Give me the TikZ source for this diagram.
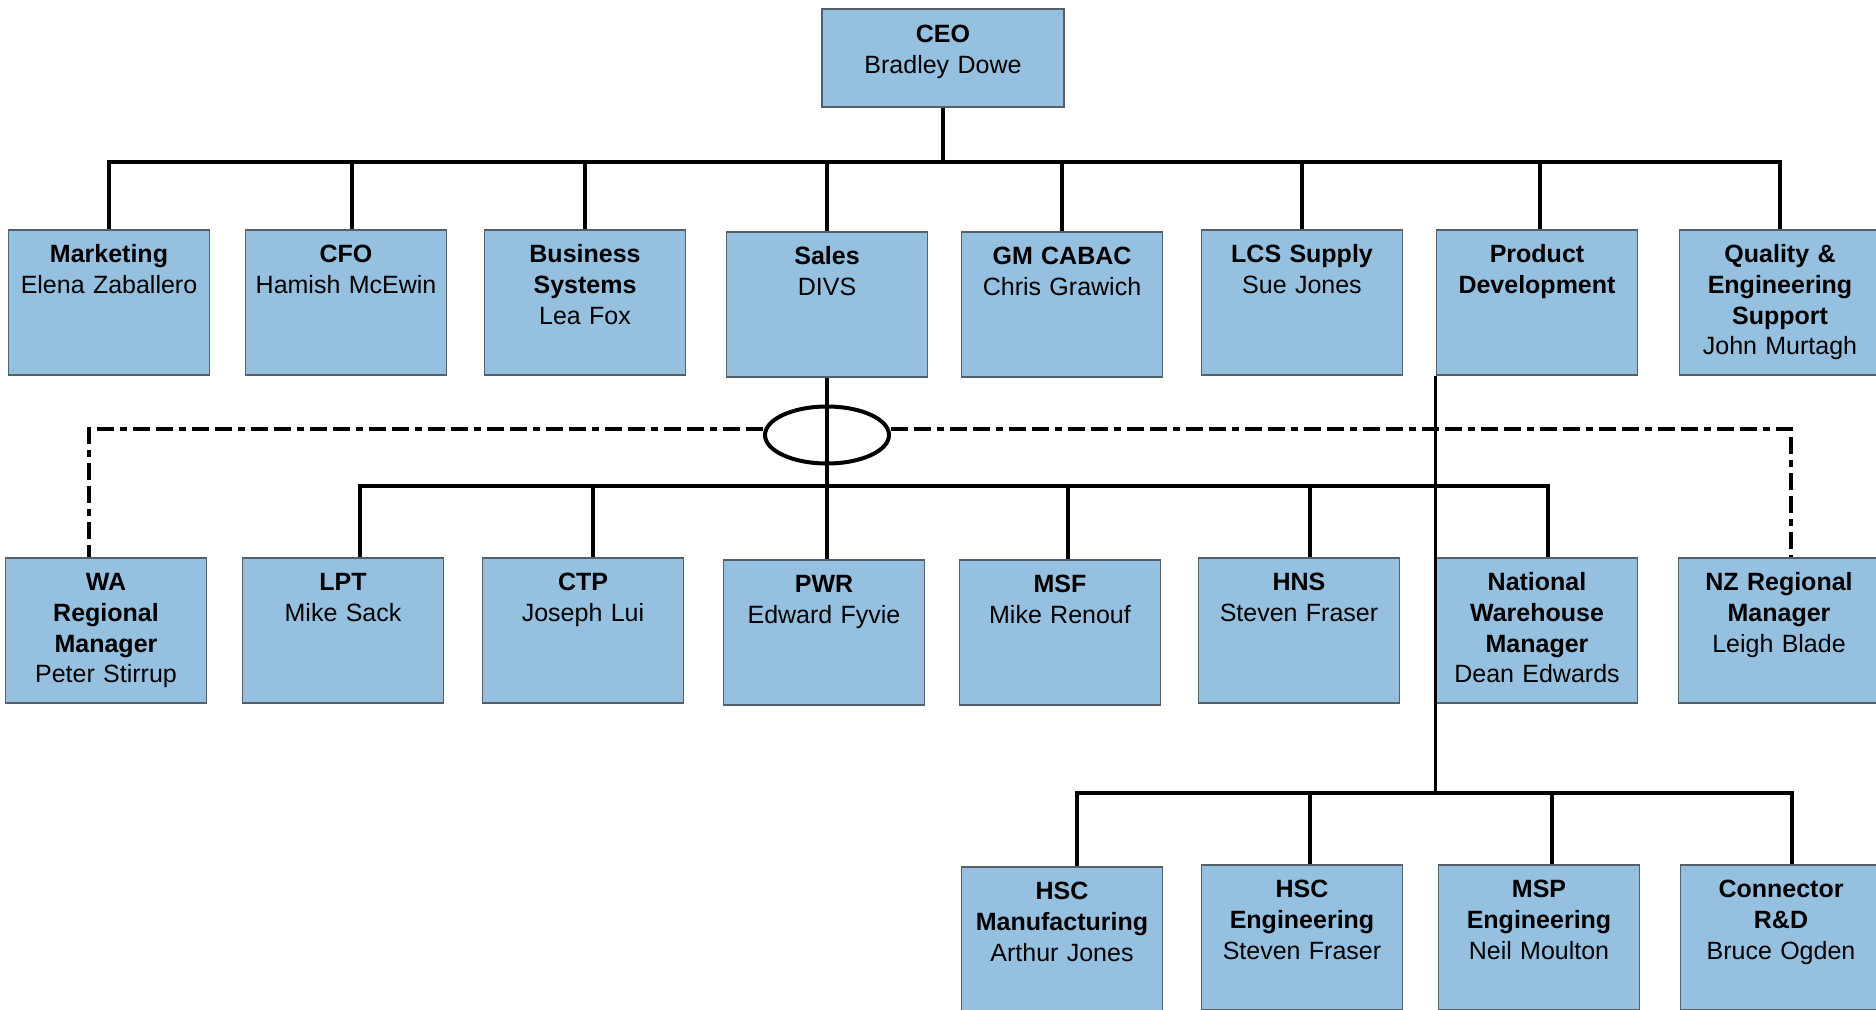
\documentclass[tikz,border=0pt]{standalone}
\usepackage{fontspec}
\setmainfont{Liberation Sans}
\usetikzlibrary{positioning,shapes.geometric}
\definecolor{deptblue}{RGB}{149,192,223}
\definecolor{deptedge}{RGB}{85,95,105}

\begin{document}
\begin{tikzpicture}[x=0.5pt, y=-0.5pt,
  dept/.style={draw=deptedge, line width=0.8pt, fill=deptblue, anchor=north, align=center, text width=96pt, minimum width=100.5pt, inner xsep=2.25pt, inner ysep=0pt, text height=16.5pt, text depth=56pt, font=\fontsize{12.5}{15.3}\selectfont},
  boss/.style={dept, minimum width=121pt, text width=116pt, text height=17pt, text depth=32pt},
  link/.style={line width=1.6pt, black},
  dotline/.style={line width=2.4pt, dash pattern=on 8.5pt off 3pt on 8.5pt off 3pt on 3.5pt off 3pt}]
              \useasboundingbox (0,0) rectangle (1876,1009);

              \node[boss] (ceo) at (943,8) {\textbf{CEO}\\Bradley Dowe};

              \node[dept] (mkt) at (109,229) {\textbf{Marketing}\\Elena Zaballero};
              \node[dept] (cfo) at (346,229) {\textbf{CFO}\\Hamish McEwin};
              \node[dept] (bsys) at (585,229) {\textbf{Business}\\\textbf{Systems}\\Lea Fox};
              \node[dept] (sales) at (827,231) {\textbf{Sales}\\DIVS};
              \node[dept] (gm) at (1062,231) {\textbf{GM CABAC}\\Chris Grawich};
              \node[dept] (lcs) at (1302,229) {\textbf{LCS Supply}\\Sue Jones};
              \node[dept] (pd) at (1537,229) {\textbf{Product}\\\textbf{Development}};
              \node[dept] (qes) at (1780,229) {\textbf{Quality \&}\\\textbf{Engineering}\\\textbf{Support}\\John Murtagh};

              \node[dept] (wa) at (106,557) {\textbf{WA}\\\textbf{Regional}\\\textbf{Manager}\\Peter Stirrup};
              \node[dept] (lpt) at (343,557) {\textbf{LPT}\\Mike Sack};
              \node[dept] (ctp) at (583,557) {\textbf{CTP}\\Joseph Lui};
              \node[dept] (pwr) at (824,559) {\textbf{PWR}\\Edward Fyvie};
              \node[dept] (msf) at (1060,559) {\textbf{MSF}\\Mike Renouf};
              \node[dept] (hns) at (1299,557) {\textbf{HNS}\\Steven Fraser};
              \node[dept] (nwm) at (1537,557) {\textbf{National}\\\textbf{Warehouse}\\\textbf{Manager}\\Dean Edwards};
              \node[dept] (nzr) at (1779,557) {\textbf{NZ Regional}\\\textbf{Manager}\\Leigh Blade};

              \node[dept] (hscm) at (1062,866) {\textbf{HSC}\\\textbf{Manufacturing}\\Arthur Jones};
              \node[dept] (hsce) at (1302,864) {\textbf{HSC}\\\textbf{Engineering}\\Steven Fraser};
              \node[dept] (msp) at (1539,864) {\textbf{MSP}\\\textbf{Engineering}\\Neil Moulton};
              \node[dept] (crd) at (1781,864) {\textbf{Connector}\\\textbf{R\&D}\\Bruce Ogden};

              \node[draw, ellipse, line width=2pt, minimum width=62pt, minimum height=28.5pt, inner sep=0pt] (hub) at (827,435) {};

              \coordinate (topbus) at (943,162);
              \coordinate (salesbus) at (827,486);
              \coordinate (pdbus) at (1437,793);

              % CEO and direct reports
              \draw[link] (ceo.south) -- (topbus);
              \draw[link] (mkt.north) |- (topbus);
              \draw[link] ([xshift=3pt]cfo.north) |- (topbus);
              \draw[link] (bsys.north) |- (topbus);
              \draw[link] (sales.north) |- (topbus);
              \draw[link] (gm.north) |- (topbus);
              \draw[link] (lcs.north) |- (topbus);
              \draw[link] ([xshift=1.5pt]pd.north) |- (topbus);
              \draw[link] (qes.north) |- (topbus);

              % sales divisions
              \draw[link] (sales.south) -- (sales.south |- pwr.north);
              \draw[link] ([xshift=8.5pt]lpt.north) |- (salesbus);
              \draw[link] ([xshift=5pt]ctp.north) |- (salesbus);
              \draw[link] ([xshift=4pt]msf.north) |- (salesbus);
              \draw[link] ([xshift=5.5pt]hns.north) |- (salesbus);
              \draw[link] ([xshift=5.5pt]nwm.north) |- (salesbus);
              \draw[dotline] ([yshift=3pt]hub.west) -| ([xshift=-8.5pt]wa.north);
              \draw[dotline] ([yshift=3pt]hub.east) -| ([xshift=6pt]nzr.north);

              % product development
              \draw[link] (pd.south west) -- (pd.south west |- pdbus);
              \draw[link] ([xshift=7.5pt]hscm.north) |- (pdbus);
              \draw[link] ([xshift=4pt]hsce.north) |- (pdbus);
              \draw[link] ([xshift=6.5pt]msp.north) |- (pdbus);
              \draw[link] ([xshift=5.5pt]crd.north) |- (pdbus);
            \end{tikzpicture}
\end{document}
